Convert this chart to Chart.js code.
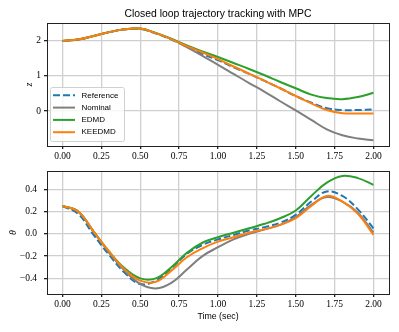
<!DOCTYPE html>
<html>
<head>
<meta charset="utf-8">
<script src="https://cdn.jsdelivr.net/npm/chart.js@4.4.1/dist/chart.umd.min.js"></script>
<style>
  html, body { margin: 0; padding: 0; background: #fff; }
  #wrap { position: relative; width: 399px; height: 332px; }
  canvas { position: absolute; left: 0; }
  #top { top: 0; }
  #bottom { top: 166px; }
</style>
</head>
<body>
<div id="wrap">
  <canvas id="top" width="399" height="166"></canvas>
  <canvas id="bottom" width="399" height="166"></canvas>
</div>
<script>
const titleText = 'Closed loop trajectory tracking with MPC';
const seriesNames = ['Reference', 'Nominal', 'EDMD', 'KEEDMD'];
const times = [0, 0.1, 0.2, 0.3, 0.4, 0.5, 0.6, 0.7, 0.8, 0.9, 1.0, 1.1, 1.2, 1.3, 1.4, 1.5, 1.6, 1.7, 1.8, 1.9, 2.0];
const xTicks = [0, 0.25, 0.5, 0.75, 1.0, 1.25, 1.5, 1.75, 2.0];
const zTicks = [0, 1, 2];
const thetaTicks = [-0.4, -0.2, 0, 0.2, 0.4];

// z (top panel)
const refZ = [2.00, 2.04, 2.14, 2.25, 2.33, 2.34, 2.21, 2.04, 1.83, 1.63, 1.45, 1.25, 1.06, 0.86, 0.65, 0.43, 0.24, 0.08, 0.03, 0.03, 0.05];
const nomZ = [2.00, 2.04, 2.14, 2.25, 2.33, 2.35, 2.22, 2.05, 1.82, 1.57, 1.32, 1.06, 0.80, 0.55, 0.28, 0.02, -0.25, -0.52, -0.69, -0.78, -0.83];
const edmdZ = [2.00, 2.04, 2.14, 2.25, 2.33, 2.35, 2.23, 2.06, 1.87, 1.70, 1.54, 1.37, 1.20, 1.02, 0.83, 0.65, 0.47, 0.37, 0.34, 0.40, 0.52];
const keedmdZ = [2.00, 2.04, 2.14, 2.25, 2.33, 2.35, 2.22, 2.05, 1.85, 1.67, 1.48, 1.27, 1.07, 0.86, 0.65, 0.43, 0.22, 0.03, -0.06, -0.07, -0.07];

// theta (bottom panel)
const refTheta = [0.25, 0.18, -0.01, -0.19, -0.35, -0.45, -0.42, -0.31, -0.18, -0.10, -0.05, -0.01, 0.03, 0.06, 0.10, 0.17, 0.29, 0.38, 0.34, 0.22, 0.05];
const nomTheta = [0.25, 0.20, 0.02, -0.17, -0.33, -0.45, -0.49, -0.44, -0.32, -0.20, -0.12, -0.05, 0.00, 0.04, 0.08, 0.15, 0.26, 0.33, 0.29, 0.19, 0.01];
const edmdTheta = [0.25, 0.20, 0.02, -0.16, -0.31, -0.40, -0.40, -0.30, -0.17, -0.08, -0.03, 0.01, 0.05, 0.09, 0.14, 0.21, 0.34, 0.46, 0.52, 0.50, 0.44];
const keedmdTheta = [0.25, 0.20, 0.02, -0.16, -0.32, -0.42, -0.43, -0.33, -0.21, -0.13, -0.07, -0.03, 0.01, 0.04, 0.08, 0.14, 0.25, 0.34, 0.29, 0.18, -0.01];

const colors = ['#1f77b4', '#7f7f7f', '#2ca02c', '#ff7f0e'];
const dashes = [[7, 3], [], [], []];
const tickFont = { family: '"Liberation Serif", serif', size: 9.5 };
const sansFamily = '"Liberation Sans", Arial, sans-serif';

const toPoints = (ys) => ys.map((y, i) => ({ x: times[i], y: y }));

const makeDatasets = (series) => series.map((ys, i) => ({
  label: seriesNames[i],
  data: toPoints(ys),
  borderColor: colors[i],
  backgroundColor: colors[i],
  borderWidth: 2,
  borderDash: dashes[i],
  pointRadius: 0,
  tension: 0.4,
  order: 3 - i,
}));

const minus = (s) => s.replace('-', '\u2212');

// no automatic padding from tick labels, the plot box is fixed
const noPadding = (s) => {
  s.paddingTop = 0;
  s.paddingBottom = 0;
  s.paddingLeft = 0;
  s.paddingRight = 0;
};

// axes frame (all four spines)
const framePlugin = {
  id: 'frame',
  afterDraw(chart) {
    const { ctx, chartArea: a } = chart;
    ctx.save();
    ctx.strokeStyle = '#222';
    ctx.lineWidth = 1;
    ctx.strokeRect(Math.round(a.left) + 0.5, Math.round(a.top) + 0.5, Math.round(a.right - a.left), Math.round(a.bottom - a.top));
    ctx.restore();
  },
};

const titlePlugin = {
  id: 'plotTitle',
  afterDraw(chart) {
    const { ctx, chartArea: a } = chart;
    ctx.save();
    ctx.fillStyle = '#000';
    ctx.font = '10.4px ' + sansFamily;
    ctx.textAlign = 'center';
    ctx.textBaseline = 'middle';
    ctx.fillText(titleText, (a.left + a.right) / 2, 14);
    ctx.restore();
  },
};

// legend box in the lower left of the top panel
const legendPlugin = {
  id: 'boxLegend',
  afterDatasetsDraw(chart) {
    const { ctx } = chart;
    const x0 = 50, y0 = 87, w = 74, h = 54;
    ctx.save();
    ctx.beginPath();
    ctx.roundRect(x0 + 0.5, y0 + 0.5, w, h, 2);
    ctx.fillStyle = 'rgba(255,255,255,0.8)';
    ctx.fill();
    ctx.strokeStyle = '#d0d0d0';
    ctx.lineWidth = 1;
    ctx.stroke();
    chart.data.datasets.forEach((ds, i) => {
      const y = 95.3 + i * 12.3;
      ctx.beginPath();
      ctx.setLineDash(ds.borderDash);
      ctx.strokeStyle = ds.borderColor;
      ctx.lineWidth = ds.borderWidth;
      ctx.moveTo(53, y);
      ctx.lineTo(75, y);
      ctx.stroke();
      ctx.setLineDash([]);
      ctx.fillStyle = '#000';
      ctx.font = '8px ' + sansFamily;
      ctx.textAlign = 'left';
      ctx.textBaseline = 'middle';
      ctx.fillText(ds.label, 81.5, y);
    });
    ctx.restore();
  },
};

const gridOpts = { color: '#cfcfcf', lineWidth: 1.3, tickColor: '#222', tickLength: 3, drawTicks: true };

const makeOptions = (cfg) => ({
  responsive: false,
  animation: false,
  devicePixelRatio: 1,
  layout: { autoPadding: false, padding: { left: 0, right: 10, top: cfg.padTop, bottom: 0 } },
  plugins: { legend: { display: false }, tooltip: { enabled: false } },
  scales: {
    x: {
      type: 'linear',
      min: -0.1,
      max: 2.1,
      afterBuildTicks: (s) => { s.ticks = xTicks.map((v) => ({ value: v })); },
      afterFit: (s) => { s.height = cfg.xHeight; noPadding(s); },
      ticks: { font: tickFont, color: '#000', padding: 2, maxRotation: 0, callback: (v) => v.toFixed(2) },
      grid: gridOpts,
      border: { display: false },
      title: cfg.xTitle ? {
        display: true,
        text: cfg.xTitle,
        font: { family: sansFamily, size: 8.8 },
        color: '#000',
        padding: { top: 0, bottom: 10 },
      } : { display: false },
    },
    y: {
      type: 'linear',
      min: cfg.yMin,
      max: cfg.yMax,
      afterBuildTicks: (s) => { s.ticks = cfg.yTicks.map((v) => ({ value: v })); },
      afterFit: (s) => { s.width = 47; noPadding(s); },
      ticks: { font: tickFont, color: '#000', padding: cfg.yPad, callback: cfg.yFormat },
      grid: gridOpts,
      border: { display: false },
      title: {
        display: true,
        text: cfg.yTitle,
        font: { family: '"Liberation Serif", serif', size: 10, style: 'italic' },
        color: '#000',
        padding: { top: cfg.yTitlePad, bottom: 0 },
      },
    },
  },
});

new Chart(document.getElementById('top'), {
  type: 'line',
  data: { datasets: makeDatasets([refZ, nomZ, edmdZ, keedmdZ]) },
  options: makeOptions({
    padTop: 23,
    xHeight: 20,
    yMin: -0.995,
    yMax: 2.51,
    yTicks: zTicks,
    yPad: 3,
    yFormat: (v) => String(v),
    yTitle: 'z',
    yTitlePad: 23,
  }),
  plugins: [legendPlugin, framePlugin, titlePlugin],
});

new Chart(document.getElementById('bottom'), {
  type: 'line',
  data: { datasets: makeDatasets([refTheta, nomTheta, edmdTheta, keedmdTheta]) },
  options: makeOptions({
    padTop: 5,
    xHeight: 38,
    xTitle: 'Time (sec)',
    yMin: -0.54,
    yMax: 0.564,
    yTicks: thetaTicks,
    yPad: 7,
    yFormat: (v) => minus(v.toFixed(1)),
    yTitle: '\u03b8',
    yTitlePad: 7,
  }),
  plugins: [framePlugin],
});
</script>
</body>
</html>
